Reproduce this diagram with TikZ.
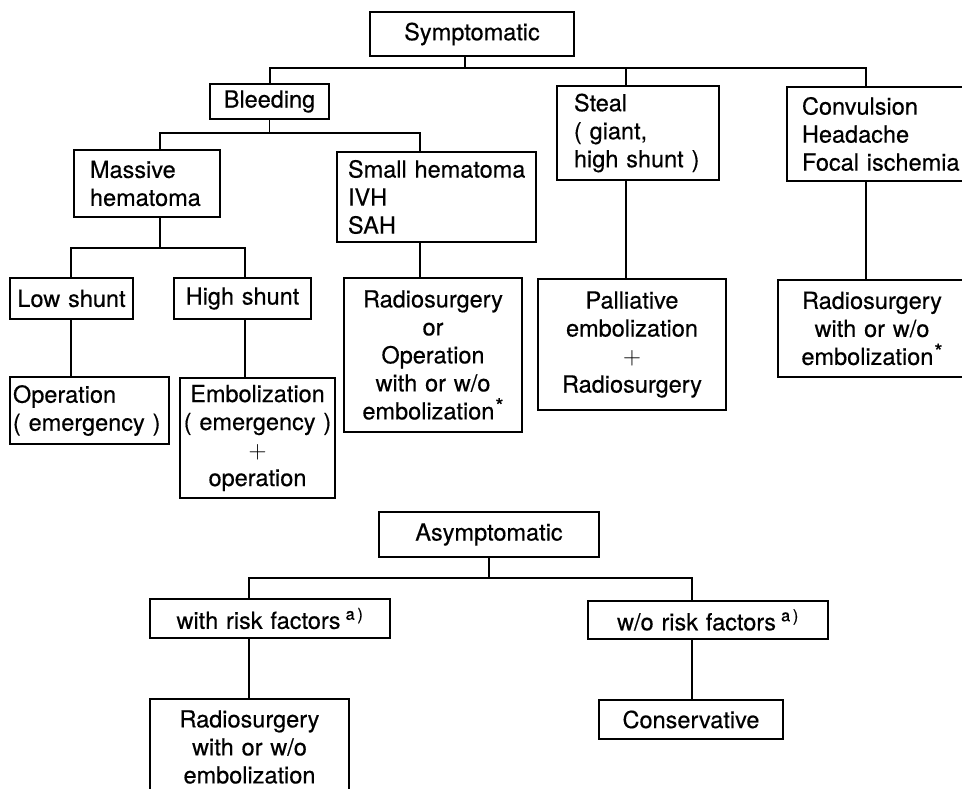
\documentclass[tikz,border=0pt]{standalone}
\usepackage{fontspec}
\setmainfont{TeX Gyre Heros}[FakeBold=0.4]
\newcommand\plusmark{{\fontsize{30}{28}\selectfont$+$}}
\newcommand\astmark{\hspace{1pt}\raisebox{6pt}{\fontsize{21}{21}\selectfont*}}
\newcommand\supa{\hspace{5pt}\textsuperscript{a\,)}}
\tikzset{
  box/.style={draw, line width=1.3pt, inner ysep=0pt, font=\fontsize{23.5}{28}\selectfont},
  wire/.style={line width=1.3pt, line cap=rect},
}
\newcommand\bx[8]{%
  \pgfmathsetmacro\bxw{#4-#2-2*#7}%
  \pgfmathsetmacro\bxh{#5-#3}%
  \node[box, align=#6, inner xsep=#7pt, text width=\bxw pt, minimum height=\bxh pt] (#1) at ({(#2+#4)/2},{(#3+#5)/2}) {#8};}
\begin{document}
\begin{tikzpicture}[x=1pt,y=-1pt]
\useasboundingbox (0,0) rectangle (962,789);
% symptomatic tree
\bx{symp}{370}{12}{574}{56}{center}{4}{Symptomatic}
\bx{bleed}{210}{84}{329}{119}{center}{4}{Bleeding}
\bx{mass}{74}{150}{220}{217}{left}{16}{\mbox{Massive}\\\mbox{hematoma}}
\bx{small}{337}{152}{536}{242}{left}{11}{\mbox{Small hematoma}\\IVH\\SAH}
\bx{steal}{557}{86}{719}{180}{left}{17}{\mbox{Steal}\\\mbox{( giant,}\\\mbox{high shunt )}}
\bx{conv}{787}{87}{966}{181}{left}{15}{\mbox{Convulsion}\\\mbox{Headache}\\\mbox{Focal ischemia}}
\bx{low}{10}{278}{133}{319}{center}{2}{\mbox{Low shunt}}
\bx{high}{174}{278}{311}{319}{center}{2}{\mbox{High shunt}}
\bx{oper}{10}{377}{169}{444}{left}{3}{\mbox{Operation}\\\mbox{( emergency )}}
\bx{embo}{180}{378}{335}{498}{center}{2}{\mbox{Embolization}\\\mbox{( emergency )}\\\plusmark\\operation}
\bx{radop}{344}{278}{522}{432}{center}{2}{Radiosurgery\\or\\Operation\\\mbox{with or w/o}\\\mbox{embolization\astmark}}
\bx{pall}{538}{279}{726}{410}{center}{2}{Palliative\\embolization\\\plusmark\\Radiosurgery}
\bx{radtwo}{778}{280}{966}{377}{center}{2}{Radiosurgery\\\mbox{with or w/o}\\\mbox{embolization\astmark}}
% asymptomatic tree
\bx{asym}{379}{512}{599}{557}{center}{2}{Asymptomatic}
\bx{with}{150}{599}{390}{638}{center}{2}{\mbox{with risk factors\supa}}
\bx{wo}{588}{601}{828}{639}{center}{2}{\mbox{w/o risk factors\supa}}
\bx{radthree}{150}{699}{349}{795}{center}{2}{Radiosurgery\\\mbox{with or w/o}\\embolization}
\bx{cons}{599}{700}{783}{739}{center}{2}{Conservative}
% bus coordinates
\coordinate (b1M) at (465,68);
\coordinate (b1L) at (270,68);
\coordinate (b1S) at (626,68);
\coordinate (b1R) at (866,68);
\coordinate (b2L) at (160,133);
\coordinate (b2R) at (420,133);
\coordinate (b3M) at (160,248);
\coordinate (b3L) at (71,248);
\coordinate (b3R) at (245,248);
\coordinate (b4L) at (249,578);
\coordinate (b4R) at (692,578);
% connectors
\draw[wire] (symp.south -| b1M) -- (b1M);
\draw[wire] (bleed.north -| b1L) -- (b1L) -- (b1R) -- (conv.north -| b1R);
\draw[wire] (b1S) -- (steal.north -| b1S);
\draw[wire] (steal.south -| b1S) -- (pall.north -| b1S);
\draw[wire] (conv.south -| b1R) -- (radtwo.north -| b1R);
\draw[wire] (bleed.south) -- (bleed.south |- b2L);
\draw[wire] (mass.north -| b2L) -- (b2L) -- (b2R) -- (small.north -| b2R);
\draw[wire] (small.south -| b2R) -- (radop.north -| b2R);
\draw[wire] (mass.south -| b3M) -- (b3M);
\draw[wire] (low.north -| b3L) -- (b3L) -- (b3R) -- (high.north -| b3R);
\draw[wire] (low.south -| b3L) -- (oper.north -| b3L);
\draw[wire] (high.south -| b3R) -- (embo.north -| b3R);
\draw[wire] (asym.south) -- (asym.south |- b4L);
\draw[wire] (with.north -| b4L) -- (b4L) -- (b4R) -- (wo.north -| b4R);
\draw[wire] (with.south -| b4L) -- (radthree.north -| b4L);
\draw[wire] (wo.south -| b4R) -- (cons.north -| b4R);
\end{tikzpicture}
\end{document}
